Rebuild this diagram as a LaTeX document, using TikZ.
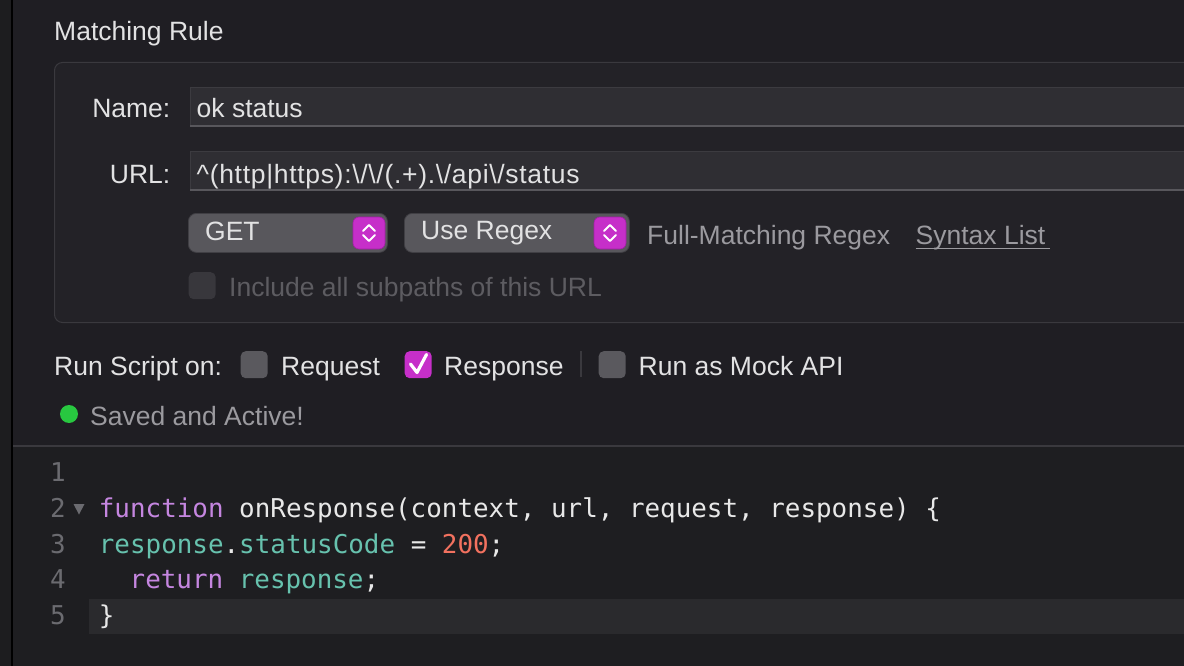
\documentclass[tikz,border=0pt]{standalone}
\usepackage{fontspec}
\setmainfont{Liberation Sans}
\newfontfamily\codefont{DejaVu Sans Mono}
\definecolor{bgmain}{HTML}{1F1E23}
\definecolor{bgcode}{HTML}{1E1E21}
\definecolor{leftstrip}{HTML}{1D1D1F}
\definecolor{groupfill}{HTML}{232227}
\definecolor{groupline}{HTML}{3A393E}
\definecolor{fieldfill}{HTML}{2F2E33}
\definecolor{fieldtop}{HTML}{3C3B40}
\definecolor{fieldbot}{HTML}{58575C}
\definecolor{popupfill}{HTML}{58575C}
\definecolor{popupline}{HTML}{403F44}
\definecolor{magenta}{HTML}{C62FC9}
\definecolor{magentaline}{HTML}{A21FA5}
\definecolor{labeltext}{HTML}{E2E2E3}
\definecolor{graytext}{HTML}{9B9A9F}
\definecolor{dimtext}{HTML}{5D5C61}
\definecolor{boxfill}{HTML}{5A595E}
\definecolor{dimbox}{HTML}{38373C}
\definecolor{sepline}{HTML}{3A393E}
\definecolor{greendot}{HTML}{28C840}
\definecolor{lnum}{HTML}{6B6B70}
\definecolor{hiline}{HTML}{2A2A2D}
\definecolor{kw}{HTML}{C586E0}
\definecolor{var}{HTML}{67C2AE}
\definecolor{num}{HTML}{F2715F}
\definecolor{plain}{HTML}{E8E8E8}
\begin{document}
\begin{tikzpicture}[x=1pt,y=-1pt,
  ui/.style={font=\fontsize{26.5}{30}\selectfont, text=labeltext, inner sep=0pt},
  uigray/.style={ui, text=graytext},
  uidim/.style={ui, text=dimtext},
  code/.style={font=\codefont\fontsize{25.9}{30}\selectfont, text=plain, inner sep=0pt, anchor=base west},
  lnumber/.style={code, text=lnum},
  popupbox/.style={draw=popupline, fill=popupfill, rounded corners=8pt, line width=0.8pt, inner sep=0pt, anchor=north west, minimum height=39pt},
  magbtn/.style={draw=magentaline, fill=magenta, rounded corners=6pt, line width=0.6pt, inner sep=0pt, minimum width=32pt, minimum height=32pt},
  chev/.style={draw=white, line width=2pt, line cap=round, line join=round},
  checkbox/.style={fill=boxfill, rounded corners=5pt, inner sep=0pt, minimum size=27pt, anchor=north west},
]
\useasboundingbox (0,0) rectangle (1184,666);
% backgrounds
\fill[bgmain] (0,0) rectangle (1184,446);
\fill[bgcode] (0,446) rectangle (1184,666);
\fill[leftstrip] (0,0) rectangle (11,666);
\fill[black] (11,0) rectangle (13,666);
\draw[sepline, line width=2pt] (13,446) -- (1184,446);

% title
\node[ui, anchor=base west] (title) at (54,40.7) {Matching Rule};

% group box
\draw[groupline, fill=groupfill, rounded corners=8pt, line width=1pt] (54.5,62.5) rectangle (1210,322.5);

% name field
\fill[fieldfill] (190,87) rectangle (1210,127);
\draw[fieldtop, line width=1pt] (190,127) -- (190,87.5) -- (1210,87.5);
\draw[fieldbot, line width=2pt] (190,126) -- (1210,126);
\node[ui, anchor=base east] (namelbl) at (170.5,118) {Name:};
\node[ui, anchor=base west] (nameval) at (196.5,118) {ok status};

% url field
\fill[fieldfill] (190,151) rectangle (1210,191);
\draw[fieldtop, line width=1pt] (190,191) -- (190,151.5) -- (1210,151.5);
\draw[fieldbot, line width=2pt] (190,190) -- (1210,190);
\node[ui, anchor=base east] (urllbl) at (170.5,183) {URL:};
\node[ui, anchor=base west] (urlval) at (196.5,183) {\addfontfeature{LetterSpace=2.6}\textasciicircum(http\textbar https):\textbackslash/\textbackslash/(.+).\textbackslash/api\textbackslash/status};

% GET popup
\node[popupbox, minimum width=199pt] (getbox) at (188,213) {};
\node[ui, anchor=base west] (gettxt) at (205,240.7) {GET};
\node[magbtn] (getbtn) at (369,233) {};
\draw[chev] ([xshift=-6pt,yshift=-2pt]getbtn.center) -- ([yshift=-8pt]getbtn.center) -- ([xshift=6pt,yshift=-2pt]getbtn.center);
\draw[chev] ([xshift=-6pt,yshift=2pt]getbtn.center) -- ([yshift=8pt]getbtn.center) -- ([xshift=6pt,yshift=2pt]getbtn.center);

% Use Regex popup
\node[popupbox, minimum width=225pt] (rxbox) at (404,213) {};
\node[ui, anchor=base west] (rxtxt) at (421,240) {Use Regex};
\node[magbtn] (rxbtn) at (610,233) {};
\draw[chev] ([xshift=-6pt,yshift=-2pt]rxbtn.center) -- ([yshift=-8pt]rxbtn.center) -- ([xshift=6pt,yshift=-2pt]rxbtn.center);
\draw[chev] ([xshift=-6pt,yshift=2pt]rxbtn.center) -- ([yshift=8pt]rxbtn.center) -- ([xshift=6pt,yshift=2pt]rxbtn.center);

\node[uigray, anchor=base west] (fullrx) at (647,244) {Full-Matching Regex};
\node[uigray, anchor=base west] (syntax) at (915.5,244) {Syntax List};
\draw[graytext, line width=1.6pt] (syntax.base west) ++(0,4.5) -- ++(134,0);

% include subpaths
\node[checkbox, fill=dimbox] (subbox) at (188.5,272) {};
\node[uidim, anchor=base west] (subtxt) at (229,296) {Include all subpaths of this URL};

% run script on
\node[ui, anchor=base west] (runlbl) at (54,375) {Run Script on:};
\node[checkbox] (reqbox) at (240.5,351) {};
\node[ui, anchor=base west] (reqtxt) at (281,375) {Request};
\node[checkbox, fill=magenta] (resbox) at (404.5,351) {};
\draw[white, line width=3.2pt, line cap=round, line join=round] (410.5,364) -- (417,372.5) -- (426.5,354.5);
\node[ui, anchor=base west] (restxt) at (444,375) {Response};
\draw[sepline, line width=1.5pt] (581,351) -- (581,377);
\node[checkbox] (mockbox) at (598.5,351) {};
\node[ui, anchor=base west] (mocktxt) at (638.5,375) {Run as Mock API};

% status
\fill[greendot] (69,414) circle (9pt);
\node[uigray, anchor=base west] (saved) at (90,425) {Saved and Active!};

% code editor
\fill[hiline] (89,599) rectangle (1184,634);
\node[lnumber] (l1) at (50,481.5) {1};
\node[lnumber] (l2) at (50,517.3) {2};
\node[lnumber] (l3) at (50,553.1) {3};
\node[lnumber] (l4) at (50,588.9) {4};
\node[lnumber] (l5) at (50,624.7) {5};
\fill[lnum] (73.5,504) -- (84.5,504) -- (79,514.5) -- cycle;
\node[code] (c2) at (98.7,517.3) {\textcolor{kw}{function} onResponse(context, url, request, response) \{};
\node[code] (c3) at (98.7,553.1) {\textcolor{var}{response}.\textcolor{var}{statusCode} = \textcolor{num}{200};};
\node[code] (c4) at (129.5,588.9) {\textcolor{kw}{return} \textcolor{var}{response};};
\node[code] (c5) at (98.7,624.7) {\}};
\end{tikzpicture}
\end{document}
